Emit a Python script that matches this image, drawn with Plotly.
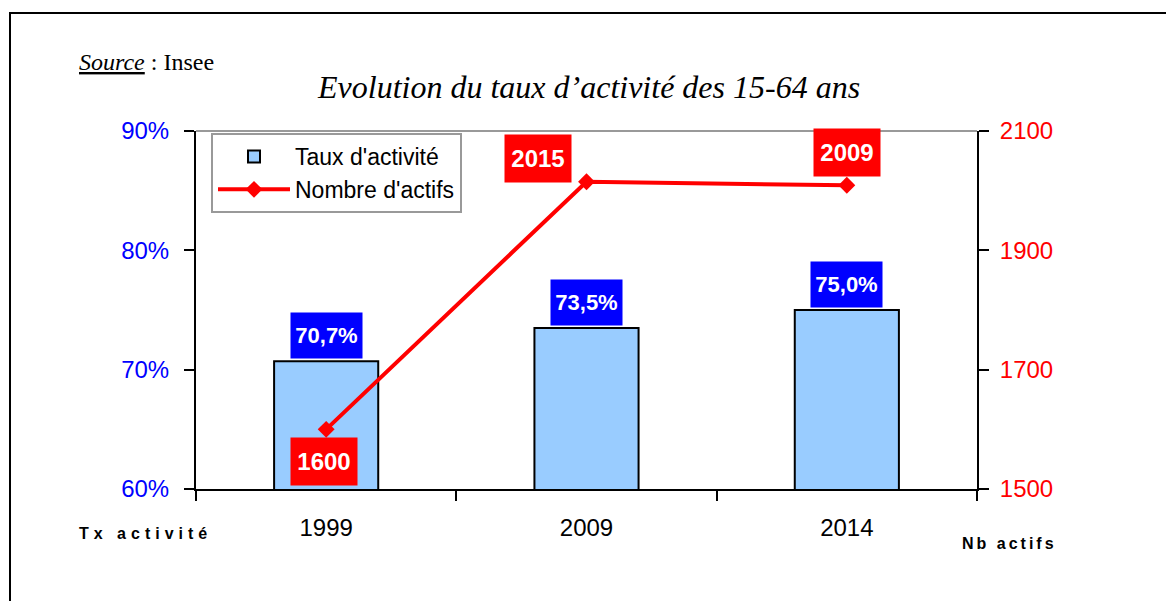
import plotly.graph_objects as go

annees = ["1999", "2009", "2014"]
taux_activite = [0.707, 0.735, 0.750]
taux_labels = ["70,7%", "73,5%", "75,0%"]
nb_actifs = [1600, 2015, 2009]
nb_labels = ["1600", "2015", "2009"]

fig = go.Figure()

fig.add_trace(go.Bar(
    x=annees, y=taux_activite, name="Taux d'activité",
    width=0.4, marker=dict(color="#99CCFF", line=dict(color="black", width=2)),
    yaxis="y",
))
fig.add_trace(go.Scatter(
    x=annees, y=nb_actifs, name="Nombre d'actifs", mode="lines+markers",
    line=dict(color="#FF0000", width=4),
    marker=dict(symbol="diamond", size=13, color="#FF0000"),
    yaxis="y2",
))

# boxed value labels (x given as category index)
for i, (v, t) in enumerate(zip(taux_activite, taux_labels)):
    fig.add_annotation(x=i, y=v, xref="x", yref="y", text="<b>" + t + "</b>",
                       showarrow=False, xanchor="center", yanchor="bottom", yshift=2,
                       bgcolor="#0000FF", font=dict(color="white", size=22, family="Arial, Liberation Sans"),
                       width=65, height=39, borderpad=3)

label_pos = [
    dict(xanchor="center", yanchor="top", xshift=-2, yshift=-8),
    dict(xanchor="right", yanchor="bottom", xshift=-15, yshift=-1),
    dict(xanchor="center", yanchor="bottom", xshift=0, yshift=8),
]
for i, (v, t, p) in enumerate(zip(nb_actifs, nb_labels, label_pos)):
    fig.add_annotation(x=i, y=v, xref="x", yref="y2", text="<b>" + t + "</b>",
                       showarrow=False, bgcolor="#FF0000",
                       font=dict(color="white", size=24, family="Arial, Liberation Sans"),
                       width=60, height=41, borderpad=3, **p)

# texts (paper coords computed from page pixels, plot area 196-977 x 131-489)
def px(x):
    return (x - 196) / 781

def py(y):
    return (489 - y) / 358

fig.add_annotation(x=px(588), y=py(87), xref="paper", yref="paper", xanchor="center", yanchor="middle",
                   text="<i>Evolution du taux d’activité des 15-64 ans</i>", showarrow=False,
                   font=dict(family="Liberation Serif, Times New Roman", size=32, color="black"))
fig.add_annotation(x=px(77), y=py(62), xref="paper", yref="paper", xanchor="left", yanchor="middle",
                   text="<i><u>Source</u></i> : Insee", showarrow=False,
                   font=dict(family="Liberation Serif, Times New Roman", size=24, color="black"))
fig.add_annotation(x=px(77), y=py(533), xref="paper", yref="paper", xanchor="left", yanchor="middle",
                   text="<b><span style='letter-spacing:5px'>Tx activité</span></b>", showarrow=False,
                   font=dict(family="Arial, Liberation Sans", size=16, color="black"))
fig.add_annotation(x=px(960), y=py(543), xref="paper", yref="paper", xanchor="left", yanchor="middle",
                   text="<b><span style='letter-spacing:3px'>Nb actifs</span></b>", showarrow=False,
                   font=dict(family="Arial, Liberation Sans", size=16, color="black"))

# outer frame and grey top line of the plot area
fig.add_shape(type="rect", xref="paper", yref="paper",
              x0=px(10), x1=1.4, y0=-0.6, y1=py(13),
              line=dict(color="black", width=2), fillcolor="rgba(0,0,0,0)", layer="below")
fig.add_shape(type="line", xref="paper", yref="paper", x0=0, x1=1, y0=1, y1=1,
              line=dict(color="#999999", width=2))

# page body has an 8px margin, so the figure is shrunk and shifted accordingly
fig.update_layout(
    width=1158, height=593,
    margin=dict(l=188, r=189, t=123, b=112),
    plot_bgcolor="white", paper_bgcolor="white",
    font=dict(family="Arial, Liberation Sans", color="black"),
    showlegend=True,
    legend=dict(x=px(211), y=py(133), xanchor="left", yanchor="top",
                bgcolor="white", bordercolor="#999999", borderwidth=2,
                font=dict(size=23, color="black"), tracegroupgap=0, itemwidth=72),
    xaxis=dict(type="category", showline=True, linecolor="black", linewidth=2,
               ticks="outside", tickson="boundaries", ticklen=10, tickcolor="black", tickwidth=2,
               tickfont=dict(size=24, color="black"), ticklabelstandoff=16, showgrid=False),
    yaxis=dict(range=[0.6, 0.9], dtick=0.1, tickformat=".0%", showline=True, linecolor="black",
               linewidth=2, ticks="outside", ticklen=10, tickcolor="black", tickwidth=2,
               tickfont=dict(size=24, color="#0000FF"), ticklabelstandoff=10,
               showgrid=False, zeroline=False),
    yaxis2=dict(range=[1500, 2100], tick0=1500, dtick=200, overlaying="y", side="right", showline=True,
                linecolor="black", linewidth=2, ticks="outside", ticklen=10, tickcolor="black",
                tickwidth=2, tickfont=dict(size=24, color="#FF0000"), ticklabelstandoff=6,
                showgrid=False, zeroline=False),
)

fig.write_html("out.html")
